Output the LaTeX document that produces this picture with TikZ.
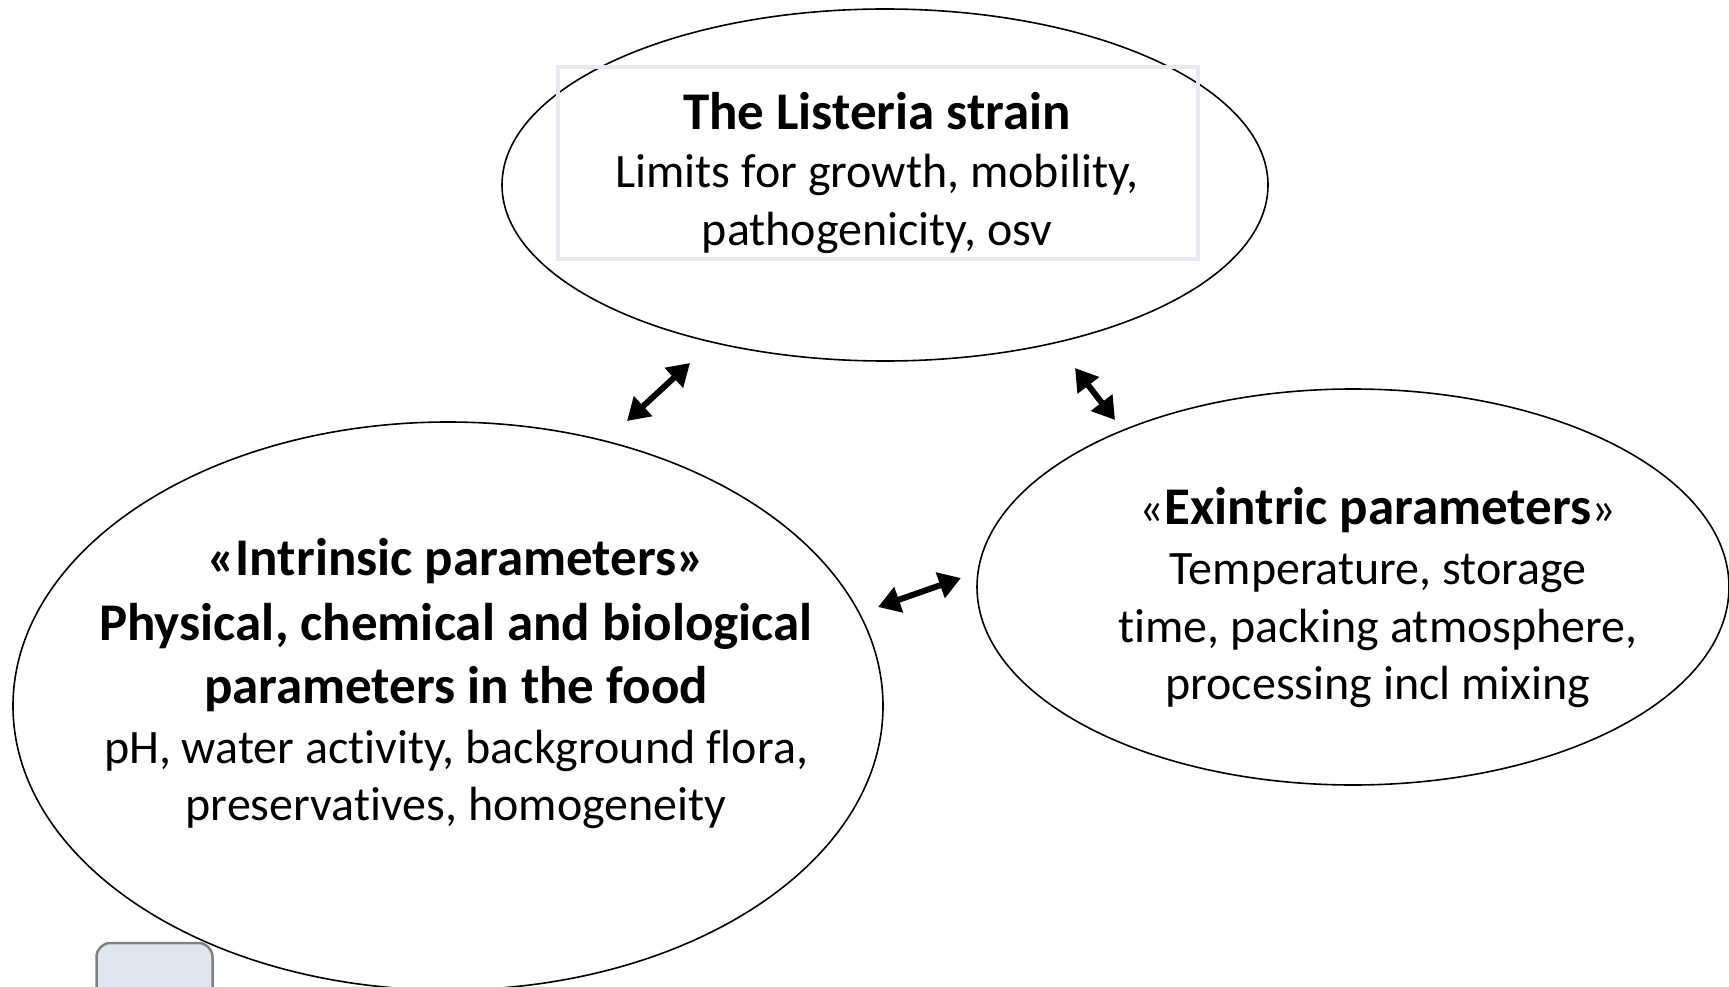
\documentclass[tikz,border=0pt]{standalone}
\usepackage{fontspec}
\setmainfont{Carlito}[Ligatures=NoCommon]
\usetikzlibrary{shapes.geometric,arrows.meta}
\begin{document}
\begin{tikzpicture}[x=1pt,y=-1pt,
  oval/.style={ellipse,draw=black,line width=1.6pt,inner sep=0pt},
  reg/.style={anchor=base,inner sep=0pt,font=\fontsize{48}{57}\selectfont},
  bld/.style={anchor=base,inner sep=0pt,font=\fontsize{53}{57}\selectfont\bfseries},
  twoway/.style={line width=6pt,{Triangle[length=22pt,width=26pt]}-{Triangle[length=22pt,width=26pt]}}]
\useasboundingbox (0,0) rectangle (1729,987);
\clip (0,0) rectangle (1729,987);
\fill[white] (0,0) rectangle (1729,987);
% ellipses
\node[oval,minimum width=766pt,minimum height=352pt] (top) at (885,185) {};
\node[oval,minimum width=870pt,minimum height=568pt] (left) at (448,706) {};
\node[oval,minimum width=752pt,minimum height=396pt] (right) at (1353,587) {};
% box in top ellipse
\node[draw={rgb,255:red,232;green,232;blue,240},line width=4.5pt,minimum width=640pt,minimum height=192pt,inner sep=0pt] (topbox) at (878,163) {};
% top text
\node[bld] (t1) at (877,130) {The Listeria strain};
\node[reg] (t2) at (877,188) {Limits for growth, mobility,};
\node[reg] (t3) at (877,245) {pathogenicity, osv};
% left text
\node[bld] (l1) at (456,575) {«Intrinsic parameters»};
\node[bld] (l2) at (456,640) {Physical, chemical and biological};
\node[bld] (l3) at (456,703) {parameters in the food};
\node[reg] (l4) at (456,763) {pH, water activity, background flora,};
\node[reg] (l5) at (456,820) {preservatives, homogeneity};
% right text
\node[reg] (r1) at (1378,524) {«{\fontsize{53}{57}\selectfont\bfseries Exintric parameters}»};
\node[reg] (r2) at (1378,584) {Temperature, storage};
\node[reg] (r3) at (1378,642) {time, packing atmosphere,};
\node[reg] (r4) at (1378,699) {processing incl mixing};
% arrow ends
\coordinate (a1s) at (627,421);
\coordinate (a1e) at (690,363);
\coordinate (a2s) at (1075,368);
\coordinate (a2e) at (1115,420);
\coordinate (a3s) at (878,607);
\coordinate (a3e) at (961,578);
\draw[twoway] (a1s) -- (a1e);
\draw[twoway] (a2s) -- (a2e);
\draw[twoway] (a3s) -- (a3e);
% small box bottom-left
\node[draw={rgb,255:red,128;green,128;blue,128},fill={rgb,255:red,224;green,230;blue,239},line width=2.5pt,rounded corners=14pt,minimum width=116pt,minimum height=90pt,inner sep=0pt] (corner) at (154.5,988) {};
\end{tikzpicture}
\end{document}
